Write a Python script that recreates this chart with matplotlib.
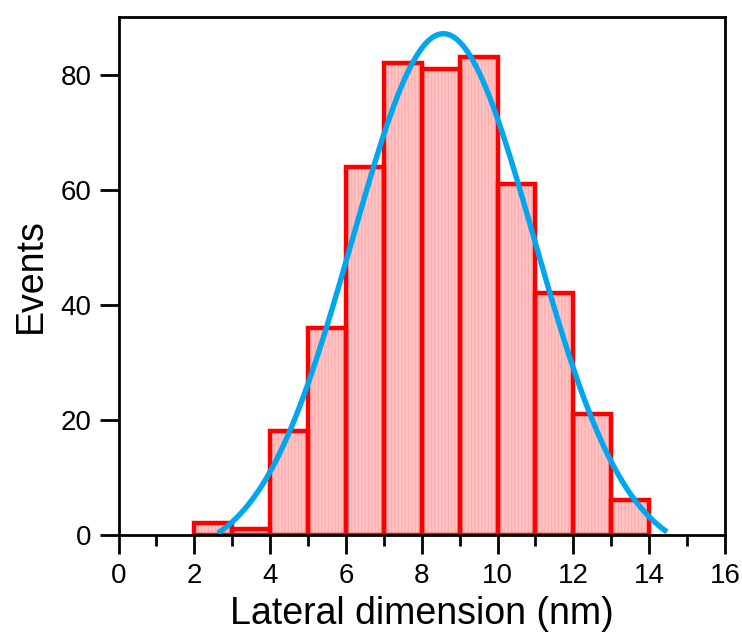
import numpy as np
import matplotlib
matplotlib.use("Agg")
import matplotlib.pyplot as plt
from matplotlib.ticker import MultipleLocator

plt.rcParams['font.family'] = ['Liberation Sans', 'DejaVu Sans']

# Histogram data (bin edges 2..14, width 1 nm)
bin_left = [2, 3, 4, 5, 6, 7, 8, 9, 10, 11, 12, 13]
counts = [2, 1, 18, 36, 64, 82, 81, 83, 61, 42, 21, 6]
bin_width = 1.0

# Gaussian fit parameters (y0 + A*exp(-((x-x0)/w)^2))
fit_y0 = -4.0
fit_A = 91.1
fit_x0 = 8.57
fit_w = 3.40
fit_xmin = 2.62
fit_xmax = 14.47

xticks = [0, 2, 4, 6, 8, 10, 12, 14, 16]
yticks = [0, 20, 40, 60, 80]

fig = plt.figure(figsize=(7.42, 6.33), dpi=100)
ax = fig.add_axes([118.5/742, (633-534.7)/633, (725-118.5)/742, (534.7-17)/633])

# fill with faint vertical hatch
ax.bar(bin_left, counts, width=bin_width, align='edge', color='#ffc6c6',
       edgecolor='#ffaeae', linewidth=0, hatch='|||||', zorder=1)
# red outlines
ax.bar(bin_left, counts, width=bin_width, align='edge', fill=False,
       edgecolor='#ff0000', linewidth=3.2, zorder=2)

xf = np.linspace(fit_xmin, fit_xmax, 400)
yf = fit_y0 + fit_A * np.exp(-((xf - fit_x0) / fit_w) ** 2)
ax.plot(xf, yf, color='#00a6ee', linewidth=3.9, solid_capstyle='butt', zorder=3)

ax.set_xlim(0, 16)
ax.set_ylim(0, 90)
ax.set_xticks(xticks)
ax.set_yticks(yticks)
ax.xaxis.set_minor_locator(MultipleLocator(1))

for s in ax.spines.values():
    s.set_linewidth(2.0)
    s.set_zorder(5)
ax.tick_params(axis='both', which='major', direction='out', length=13.5, width=2.0,
               labelsize=20, colors='black')
ax.tick_params(axis='x', which='major', pad=7)
ax.tick_params(axis='y', which='major', pad=6)
ax.tick_params(axis='x', which='minor', direction='out', length=8, width=2.0)
ax.tick_params(top=False, right=False)

ax.set_xlabel('Lateral dimension (nm)', fontsize=27, labelpad=5)
ax.set_ylabel('Events', fontsize=27, labelpad=8)

fig.savefig('out.png', dpi=100)
